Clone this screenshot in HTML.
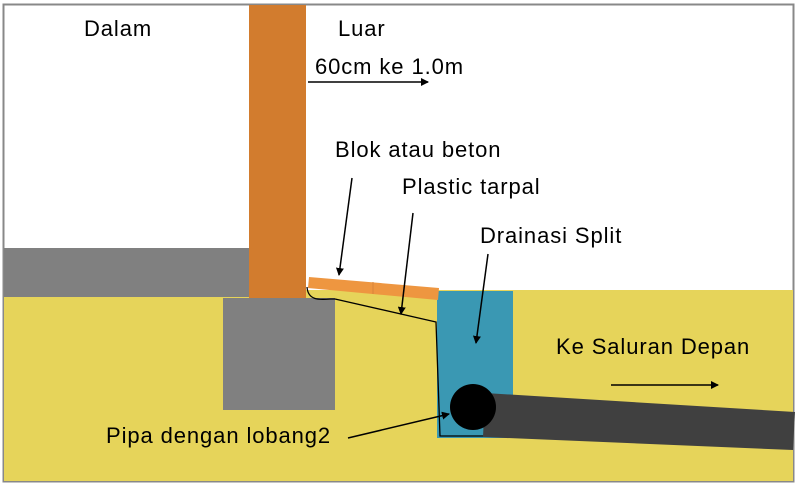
<!DOCTYPE html>
<html><head><style>
body{margin:0;background:#fff;width:800px;height:486px;overflow:hidden}
svg text{font-family:"Liberation Sans",sans-serif;font-size:22px;letter-spacing:0.9px;fill:#000}
</style></head><body>
<svg width="800" height="486" viewBox="0 0 800 486">
<defs><marker id="a" markerWidth="8" markerHeight="8" refX="7" refY="4" orient="auto" markerUnits="userSpaceOnUse"><path d="M0,0 L8,4 L0,8z" fill="#000"/></marker></defs>
<rect x="3.5" y="4.5" width="790" height="477" fill="#fff" stroke="#888" stroke-width="2"/>
<rect x="4" y="290" width="789" height="191" fill="#e6d45a"/>
<rect x="4" y="248" width="245" height="49" fill="#808080"/>
<rect x="249" y="5" width="57" height="293" fill="#d27c2e"/>
<rect x="223" y="298" width="112" height="112" fill="#808080"/>
<rect x="437" y="291" width="76" height="147" fill="#3a98b3"/>
<polygon points="309,277 439,288 438,300 308,288" fill="#ee9640"/>
<line x1="373" y1="282" x2="373" y2="294" stroke="#d8843a" stroke-width="1"/>
<path d="M307,287 C308,300 318,300 330,299 L335,299 M335,299 L436,322 L440,436 L505,436" fill="none" stroke="#000" stroke-width="1.3"/>
<polygon points="485,393 795,412 793,450 483,437" fill="#404040"/>
<circle cx="473" cy="407" r="23" fill="#000"/>
<text x="84" y="36">Dalam</text>
<text x="338" y="36">Luar</text>
<text x="315" y="74">60cm ke 1.0m</text>
<line x1="308" y1="82" x2="428" y2="82" stroke="#000" stroke-width="1.5" marker-end="url(#a)"/>
<text x="335" y="157">Blok atau beton</text>
<line x1="352" y1="178" x2="339" y2="275" stroke="#000" stroke-width="1.5" marker-end="url(#a)"/>
<text x="402" y="194">Plastic tarpal</text>
<line x1="413" y1="213" x2="401" y2="314" stroke="#000" stroke-width="1.5" marker-end="url(#a)"/>
<text x="480" y="243">Drainasi Split</text>
<line x1="488" y1="254" x2="476" y2="343" stroke="#000" stroke-width="1.5" marker-end="url(#a)"/>
<text x="556" y="354">Ke Saluran Depan</text>
<line x1="611" y1="385" x2="718" y2="385" stroke="#000" stroke-width="1.5" marker-end="url(#a)"/>
<text x="106" y="443">Pipa dengan lobang2</text>
<line x1="348" y1="438" x2="449" y2="414" stroke="#000" stroke-width="1.5" marker-end="url(#a)"/>
</svg>
</body></html>
